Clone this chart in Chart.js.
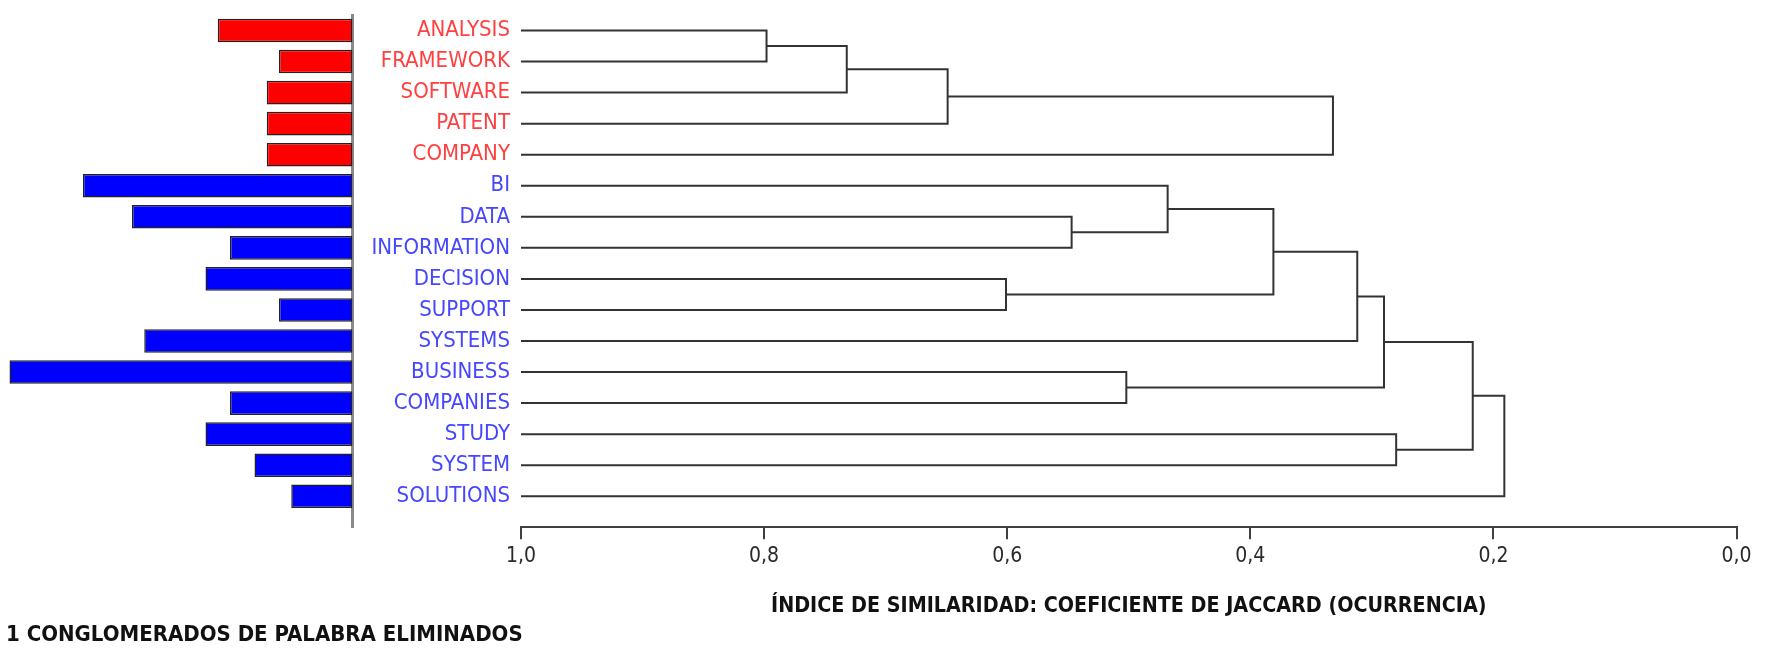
<!DOCTYPE html>
<html>
<head>
<meta charset="utf-8">
<script src="https://cdn.jsdelivr.net/npm/chart.js@4.4.1/dist/chart.umd.min.js"></script>
<style>
  body { margin: 0; background: #fff; }
  #wrap { position: relative; width: 1768px; height: 649px; }
  #wrap canvas { position: absolute; left: 0; top: 0; }
  #note { position: absolute; left: 6px; top: 621px; font: bold 22px 'DejaVu Sans Condensed', 'DejaVu Sans'; color: #111; white-space: nowrap; }
</style>
</head>
<body>
<div id="wrap">
  <canvas id="bars" width="1768" height="649"></canvas>
  <canvas id="dendro" width="1768" height="649"></canvas>
  <div id="note">1 CONGLOMERADOS DE PALABRA ELIMINADOS</div>
</div>
<script>
// words in dendrogram order, 0 = red cluster, 1 = blue cluster
var words = ['ANALYSIS','FRAMEWORK','SOFTWARE','PATENT','COMPANY','BI','DATA','INFORMATION',
             'DECISION','SUPPORT','SYSTEMS','BUSINESS','COMPANIES','STUDY','SYSTEM','SOLUTIONS'];
var cluster = [0,0,0,0,0,1,1,1,1,1,1,1,1,1,1,1];
var frequency = [11,6,7,7,7,22,18,10,12,6,17,28,10,12,8,5];

// merges: node 16 + k joins mergeLeft[k] and mergeRight[k] at mergeSimilarity[k]
var mergeLeft  = [0, 16, 17, 8, 6, 11, 5, 22, 18, 23, 25, 13, 26, 28];
var mergeRight = [1,  2,  3, 9, 7, 12, 20, 19, 4, 10, 21, 14, 27, 15];
var mergeSimilarity = [0.798, 0.732, 0.649, 0.601, 0.547, 0.502, 0.468, 0.381, 0.332, 0.312, 0.290, 0.280, 0.217, 0.191];

var simTicks = [1.0, 0.8, 0.6, 0.4, 0.2, 0.0];
var axisTitle = 'ÍNDICE DE SIMILARIDAD: COEFICIENTE DE JACCARD (OCURRENCIA)';

var barColors = ['#ff0000', '#0000ff'];
var labelColors = ['#ff4040', '#4646ff'];
var FONT = "'DejaVu Sans Condensed', 'DejaVu Sans'";

Chart.defaults.font.family = FONT;
Chart.defaults.animation = false;

function rowTicks(s){ s.ticks = words.map(function(w, i){ return {value: i}; }); }

// ---------- frequency bars (left) ----------
new Chart(document.getElementById('bars'), {
    type: 'bar',
    data: {
        datasets: [{
            data: frequency.map(function(v, i){ return {x: v, y: i}; }),
            backgroundColor: cluster.map(function(c){ return barColors[c]; }),
            borderColor: '#222',
            borderWidth: 1.5,
            borderSkipped: false,
            categoryPercentage: 1,
            barPercentage: 0.76
        }]
    },
    options: {
        indexAxis: 'y',
        responsive: false,
        layout: { padding: { top: 15, bottom: 121.7, left: 0, right: 1768 - 352.5 } },
        plugins: { legend: { display: false }, tooltip: { enabled: false } },
        scales: {
            x: { type: 'linear', reverse: true, min: 0, max: 352.5 / 12.25, display: false },
            y: {
                type: 'linear', reverse: true, min: -0.5, max: 16, position: 'right', offset: false,
                afterBuildTicks: rowTicks,
                ticks: { display: false },
                grid: { display: false, drawTicks: false, offset: false },
                border: { display: true, color: '#8a8a8a', width: 3 },
                afterFit: function(s){ s.width = 0; s.paddingTop = 0; s.paddingBottom = 0; }
            }
        }
    }
});

// ---------- dendrogram (right) ----------
var nodeY = words.map(function(w, i){ return i; });
var nodeSim = words.map(function(){ return 1.0; });
var links = [];
for (var k = 0; k < mergeLeft.length; k++) {
    var a = mergeLeft[k], b = mergeRight[k], s = mergeSimilarity[k];
    links.push({
        data: [
            {x: nodeSim[a], y: nodeY[a]},
            {x: s, y: nodeY[a]},
            {x: s, y: nodeY[b]},
            {x: nodeSim[b], y: nodeY[b]}
        ],
        showLine: true,
        borderColor: '#333',
        borderWidth: 2,
        pointRadius: 0,
        tension: 0
    });
    nodeY.push((nodeY[a] + nodeY[b]) / 2);
    nodeSim.push(s);
}

new Chart(document.getElementById('dendro'), {
    type: 'scatter',
    data: { datasets: links },
    options: {
        responsive: false,
        layout: { padding: { top: 15, bottom: 0, left: 0, right: 31.5 } },
        plugins: { legend: { display: false }, tooltip: { enabled: false } },
        scales: {
            x: {
                type: 'linear', reverse: true, min: 0, max: 1,
                afterBuildTicks: function(s){ s.ticks = simTicks.map(function(v){ return {value: v}; }); },
                afterFit: function(s){ s.height = 649 - 527.3; s.paddingLeft = 0; s.paddingRight = 0; },
                ticks: {
                    color: '#2a2a2a',
                    font: { size: 21 },
                    padding: 5,
                    maxRotation: 0,
                    callback: function(v){ return v.toFixed(1).replace('.', ','); }
                },
                grid: { display: true, drawOnChartArea: false, drawTicks: true, tickLength: 12, color: '#404040', lineWidth: 2 },
                border: { display: true, color: '#404040', width: 2 },
                title: {
                    display: true, text: axisTitle, color: '#111',
                    font: { size: 21.3, weight: 'bold' },
                    padding: { top: 4, bottom: 30 }
                }
            },
            y: {
                type: 'linear', reverse: true, min: -0.5, max: 16,
                afterBuildTicks: rowTicks,
                afterFit: function(s){ s.width = 521; s.paddingTop = 0; s.paddingBottom = 0; },
                ticks: {
                    padding: 11,
                    font: { size: 22 },
                    color: function(c){ return labelColors[cluster[c.index]]; },
                    callback: function(v){ return words[v]; }
                },
                grid: { display: false, drawTicks: false },
                border: { display: false }
            }
        }
    }
});
</script>
</body>
</html>
